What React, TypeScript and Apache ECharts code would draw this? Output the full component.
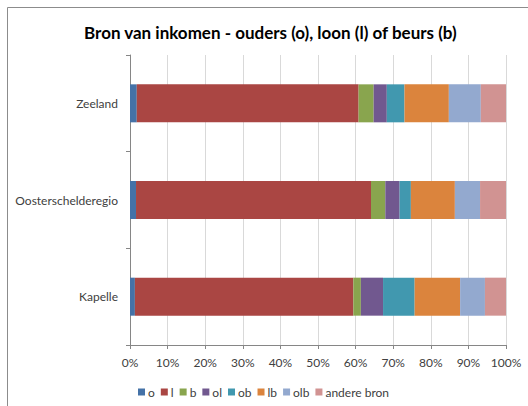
import React, { useEffect, useRef } from "react";
import * as echarts from "echarts";

const categories = ["Zeeland", "Oosterschelderegio", "Kapelle"];
const seriesNames = ["o", "l", "b", "ol", "ob", "lb", "olb", "andere bron"];
const oValues = [1.8, 1.6, 1.3];
const lValues = [59.0, 62.5, 58.1];
const bValues = [4.0, 3.8, 2.0];
const olValues = [3.5, 3.8, 5.9];
const obValues = [4.7, 3.0, 8.4];
const lbValues = [11.8, 11.7, 12.1];
const olbValues = [8.5, 6.7, 6.6];
const andereValues = [6.7, 6.9, 5.6];
const xTicks = [0, 10, 20, 30, 40, 50, 60, 70, 80, 90, 100];
const colors = ["#4572A7", "#AA4643", "#89A54E", "#71588F", "#4198AF", "#DB843D", "#93A9CF", "#D19392"];

const allValues = [oValues, lValues, bValues, olValues, obValues, lbValues, olbValues, andereValues];

export default function App() {
  const ref = useRef<HTMLDivElement>(null);
  useEffect(() => {
    if (!ref.current) return;
    const chart = echarts.init(ref.current, undefined, { renderer: "svg" });
    const font = "Lato";
    chart.setOption({
      animation: false,
      backgroundColor: "#ffffff",
      title: {
        text: "Bron van inkomen - ouders (o), loon (l) of beurs (b)",
        left: 79,
        top: 19,
        textStyle: { fontFamily: font, fontSize: 17, fontWeight: "bold", color: "#000000" },
      },
      legend: {
        left: 133,
        top: 381,
        itemWidth: 7,
        itemHeight: 7,
        itemGap: 6,
        icon: "rect",
        data: seriesNames,
        textStyle: { fontFamily: font, fontSize: 12, color: "#404040", padding: [0, 0, 0, -2] },
      },
      grid: { left: 130, right: 22, top: 55, bottom: 61, containLabel: false },
      xAxis: {
        type: "value",
        min: xTicks[0],
        max: xTicks[xTicks.length - 1],
        interval: 10,
        axisLine: { show: true, lineStyle: { color: "#868686" } },
        axisTick: { show: true, length: 4, lineStyle: { color: "#868686" } },
        splitLine: { show: true, lineStyle: { color: "#d9d9d9" } },
        axisLabel: { formatter: "{value}%", margin: 11, fontFamily: font, fontSize: 12, color: "#404040" },
      },
      yAxis: {
        type: "category",
        data: categories,
        inverse: true,
        axisLine: { show: true, lineStyle: { color: "#868686" } },
        axisTick: { show: true, length: 4, alignWithLabel: false, lineStyle: { color: "#868686" } },
        axisLabel: { margin: 12, fontFamily: font, fontSize: 12, color: "#404040" },
      },
      graphic: [
        {
          type: "polyline",
          shape: { points: [[7.5, 406], [7.5, 7.5], [528, 7.5]] },
          style: { stroke: "#8c8c8c", lineWidth: 1, fill: null },
          silent: true,
        },
      ],
      series: seriesNames.map((name, i) => ({
        name,
        type: "bar",
        stack: "total",
        barWidth: 38,
        data: allValues[i],
        itemStyle: { color: colors[i] },
      })),
    });
    return () => chart.dispose();
  }, []);
  return <div ref={ref} style={{ position: "fixed", left: 0, top: 0, width: 528, height: 406 }} />;
}
